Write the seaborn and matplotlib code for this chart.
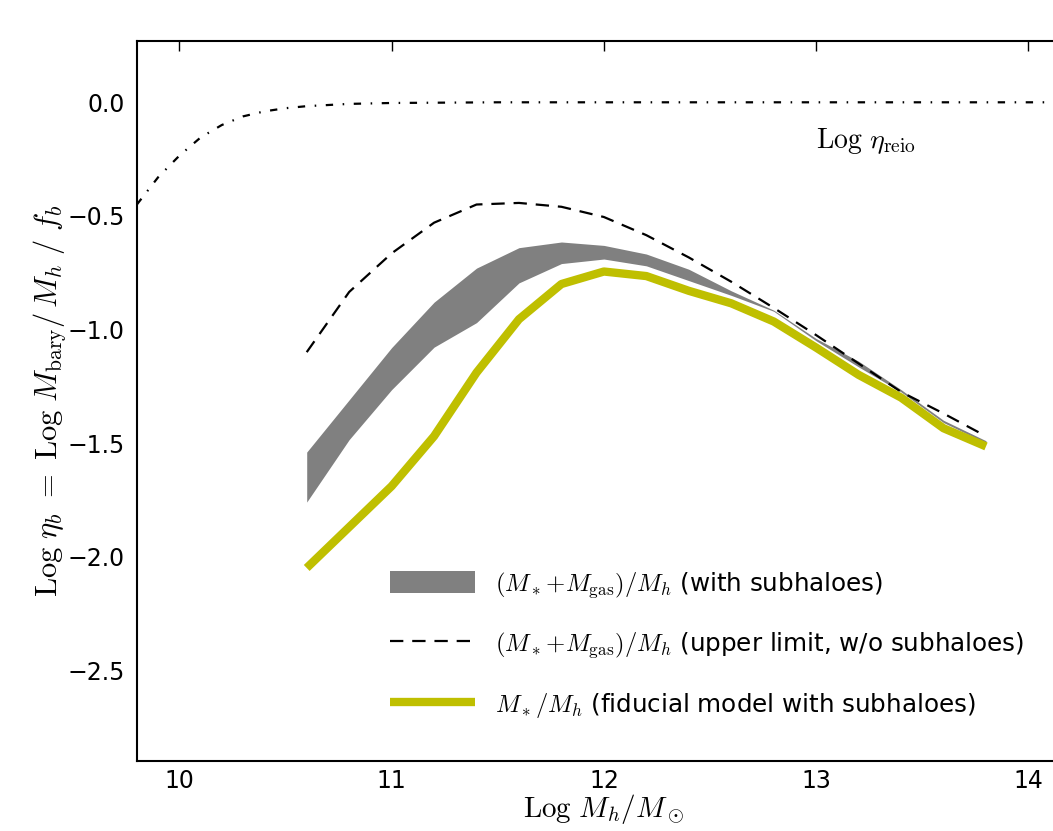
import numpy as np
import pandas as pd
import matplotlib
matplotlib.use("Agg")
import matplotlib.pyplot as plt
import seaborn as sns

# ---- data ----
mh = [10.6, 10.8, 11.0, 11.2, 11.4, 11.6, 11.8, 12.0, 12.2, 12.4, 12.6, 12.8, 13.0, 13.2, 13.4, 13.6, 13.8]
stellar = [-2.05, -1.87, -1.69, -1.47, -1.19, -0.955, -0.80, -0.745, -0.765, -0.83, -0.885, -0.965, -1.08, -1.20, -1.30, -1.435, -1.515]
band_upper = [-1.54, -1.31, -1.08, -0.88, -0.73, -0.64, -0.615, -0.63, -0.668, -0.735, -0.83, -0.915, -1.04, -1.14, -1.265, -1.40, -1.49]
band_lower = [-1.76, -1.485, -1.265, -1.078, -0.97, -0.795, -0.71, -0.69, -0.72, -0.785, -0.85, -0.92, -1.05, -1.165, -1.275, -1.41, -1.50]
upper_limit = [-1.10, -0.835, -0.665, -0.53, -0.45, -0.443, -0.46, -0.505, -0.585, -0.683, -0.79, -0.905, -1.025, -1.15, -1.275, -1.37, -1.47]

reio_x = [9.8, 9.9, 10.0, 10.1, 10.2, 10.3, 10.4, 10.5, 10.6, 10.8, 11.0, 11.5, 12.0, 13.0, 14.2]
reio_y = [-0.45, -0.33, -0.235, -0.155, -0.10, -0.062, -0.04, -0.026, -0.017, -0.007, -0.003, 0.0, 0.0, 0.0, 0.0]

xticks = [10, 11, 12, 13, 14]
yticks = [0.0, -0.5, -1.0, -1.5, -2.0, -2.5]

df = pd.DataFrame({"mh": mh, "stellar": stellar, "upper": upper_limit,
                   "lo": band_lower, "hi": band_upper})
df_reio = pd.DataFrame({"x": reio_x, "y": reio_y})

sns.set_theme(style="white")
plt.rcParams["font.family"] = ["DejaVu Sans"]
plt.rcParams["mathtext.fontset"] = "cm"
plt.rcParams["text.color"] = "black"
plt.rcParams["axes.labelcolor"] = "black"

fig = plt.figure(figsize=(10.53, 8.31), dpi=100)
ax = fig.add_axes([0.130, 0.0842, 0.887, 0.8665])

ax.fill_between(df["mh"], df["lo"], df["hi"], color="0.5", linewidth=0,
                label=r"$(M_*\!+\!M_{\rm gas})/M_h$ (with subhaloes)")
sns.lineplot(data=df, x="mh", y="upper", ax=ax, color="black", linewidth=1.6,
             dashes=False, label=r"$(M_*\!+\!M_{\rm gas})/M_h$ (upper limit, w/o subhaloes)",
             linestyle=(0, (6, 4)))
sns.lineplot(data=df, x="mh", y="stellar", ax=ax, color="#bfbf00", linewidth=6,
             solid_capstyle="butt",
             label=r"$M_*/M_h$ (fiducial model with subhaloes)")
sns.lineplot(data=df_reio, x="x", y="y", ax=ax, color="black", linewidth=1.6,
             linestyle=(0, (3.3, 4.3, 0.7, 4.3)), legend=False)

ax.text(13.0, -0.17, r"$\mathrm{Log}\ \eta_{\rm reio}$", fontsize=20,
        ha="left", va="center")

ax.set_xlim(9.8, 14.2)
ax.set_ylim(-2.9, 0.27)
ax.set_xticks(xticks)
ax.set_yticks(yticks)
ax.set_xticklabels([str(t) for t in xticks])
ax.set_yticklabels([f"{t:.1f}".replace("-", "\u2212") for t in yticks])
ax.tick_params(direction="in", length=7, width=1, top=True, right=True,
               labelsize=17, pad=9, colors="black")
ax.tick_params(axis="x", pad=6)
for s in ax.spines.values():
    s.set_color("black")
    s.set_linewidth(1.5)

ax.set_xlabel(r"$\mathrm{Log}\ M_h/M_\odot$", fontsize=21, labelpad=-1)
ax.set_ylabel(r"$\mathrm{Log}\ \eta_b\ =\ \mathrm{Log}\ M_{\rm bary}/\,M_h\ /\ f_b$",
              fontsize=22)
ax.yaxis.set_label_coords(-0.074, 0.5)

handles, labels = ax.get_legend_handles_labels()
leg = ax.legend(handles, labels, loc="center left", bbox_to_anchor=(0.247, 0.161),
                frameon=False, fontsize=17.7, handlelength=3.45, handletextpad=0.85,
                handleheight=1.0, labelspacing=1.25)
for t in leg.get_texts():
    t.set_color("black")

fig.savefig("out.png", dpi=100, facecolor="white")
